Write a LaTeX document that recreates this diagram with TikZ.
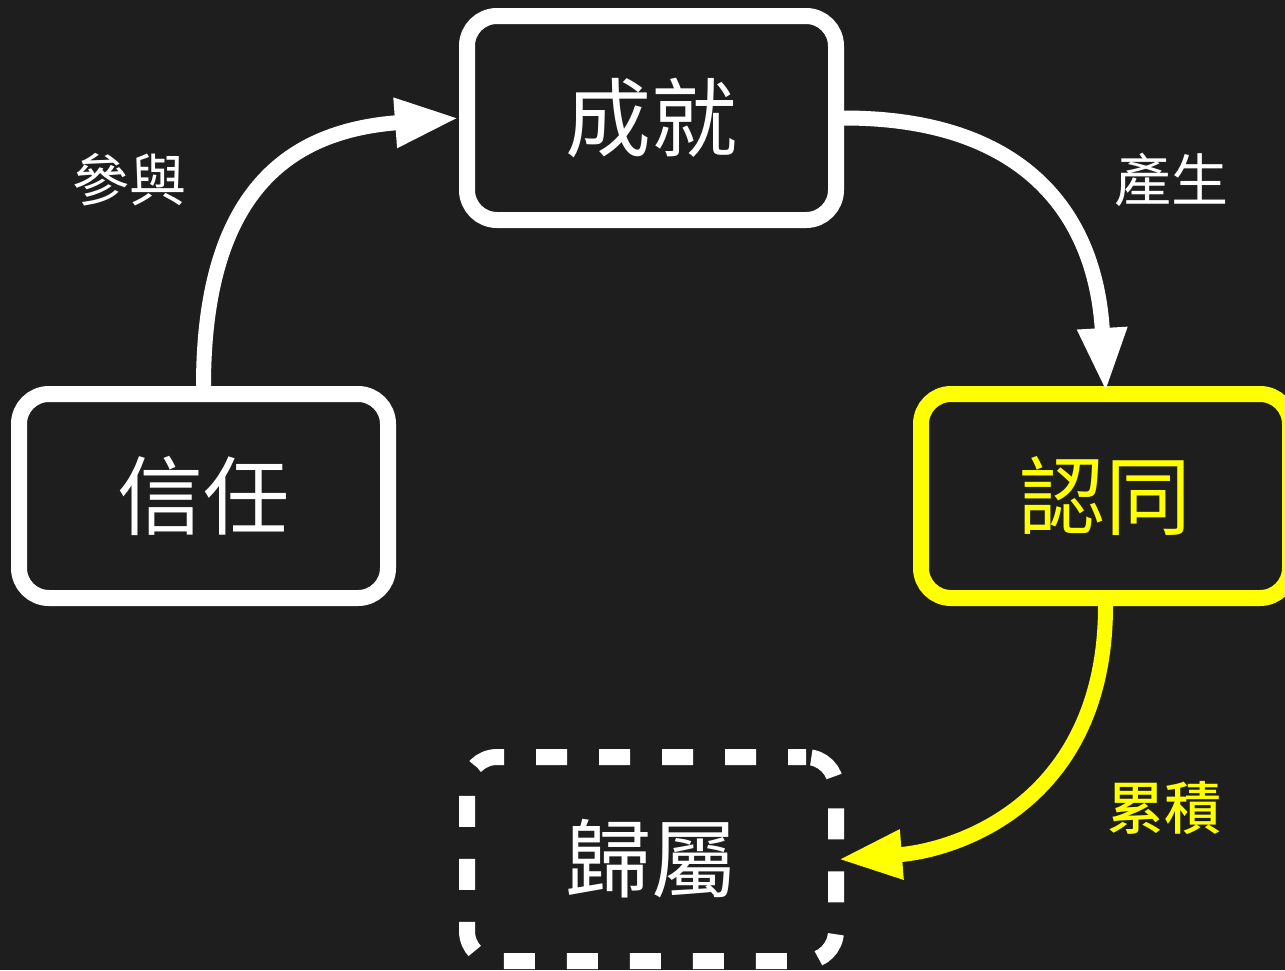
\documentclass[tikz,border=0pt]{standalone}
\usepackage{fontspec}
\newfontfamily\cjk{Noto Sans CJK TC}
\newfontfamily\cjkmed{Noto Sans CJK TC Medium}
\usepackage{tikz}
\usetikzlibrary{arrows.meta,positioning}
\definecolor{bgdark}{HTML}{1E1E1E}
\definecolor{hiyellow}{HTML}{FFFF00}

\begin{document}
\begin{tikzpicture}[x=1pt,y=-1pt,
  box/.style={draw=white,line width=16pt,rounded corners=30pt,minimum width=369pt,minimum height=204pt,text=white,font=\cjk\fontsize{86}{90}\selectfont},
  lbl/.style={text=white,font=\cjk\fontsize{57}{60}\selectfont},
  flow/.style={draw=white,line width=15pt,-{Triangle[length=64pt,width=46pt]}}]
\useasboundingbox (0,0) rectangle (1285,970);
\fill[bgdark] (0,0) rectangle (1285,970);
\node[box] (trust) at (203.5,496) {信任};
\node[box] (achieve) at (651.5,118) {成就};
\node[box,draw=hiyellow,text=hiyellow] (ident) at (1105.5,496) {認同};
\node[box,dash pattern=on 31pt off 32pt,dash phase=13pt] (belong) at (651.5,859) {歸屬};
\node[lbl] (lblJoin) at (129,180) {參與};
\node[lbl] (lblMake) at (1171,180) {產生};
\node[lbl,text=hiyellow,font=\cjkmed\fontsize{57}{60}\selectfont] (lblSum) at (1164,808) {累積};
\draw[flow] (trust.north) .. controls +(0,-206) and +(-159,12) .. (achieve.west);
\draw[flow,shorten >=-6pt] (achieve.east) .. controls +(176,0) and +(-10,-176) .. (ident.north);
\draw[flow,draw=hiyellow,shorten >=-6pt] (ident.south) .. controls +(0,194) and +(116,-9) .. (belong.east);
\end{tikzpicture}
\end{document}
